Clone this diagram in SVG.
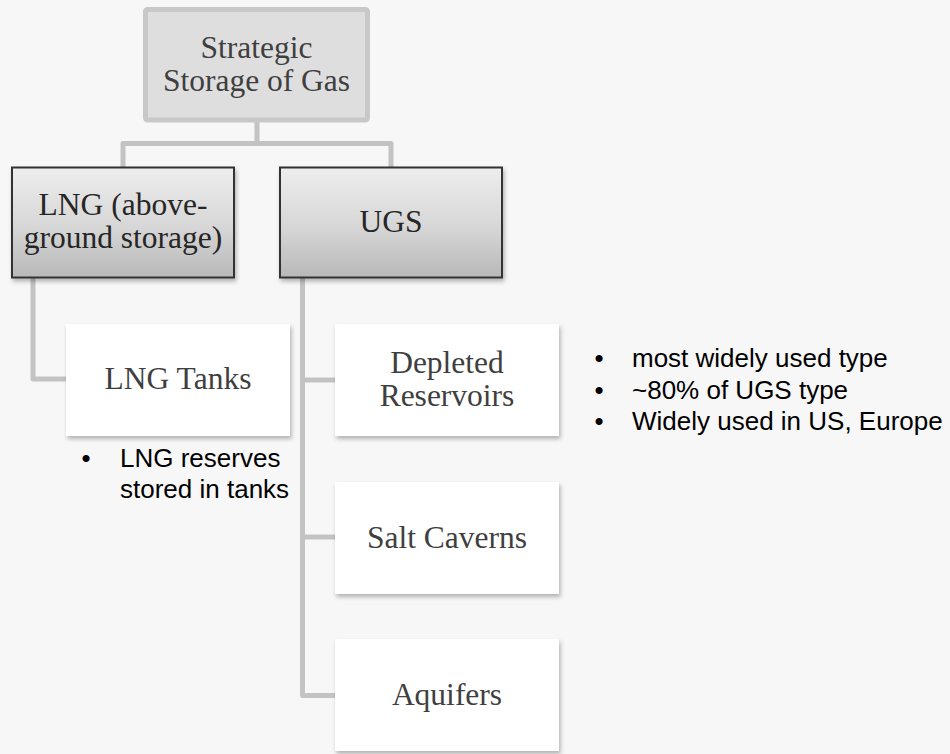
<svg xmlns="http://www.w3.org/2000/svg" width="950" height="754" viewBox="0 0 950 754">
  <defs>
    <linearGradient id="gradMid" x1="0" y1="0" x2="0" y2="1">
      <stop offset="0" stop-color="#eeeeee"/>
      <stop offset="0.55" stop-color="#d6d6d6"/>
      <stop offset="1" stop-color="#b8b8b8"/>
    </linearGradient>
    <filter id="shadow" x="-10%" y="-10%" width="125%" height="130%">
      <feDropShadow dx="1.5" dy="3" stdDeviation="2" flood-color="#000" flood-opacity="0.28"/>
    </filter>
  </defs>
  <style>
    .bg { fill: #f7f7f7; }
    .conn { fill: none; stroke: #c3c3c3; stroke-width: 5; stroke-linejoin: round; stroke-linecap: butt; }
    .root { fill: #dedede; stroke: #c8c8c8; stroke-width: 5; }
    .mid { fill: url(#gradMid); stroke: #333333; stroke-width: 2; filter: url(#shadow); }
    .leaf { fill: #ffffff; stroke: none; filter: url(#shadow); }
    .serif { font-family: "Liberation Serif", "Times New Roman", serif; font-size: 31.5px; fill: #3f3f3f; text-anchor: middle; }
    .serif.dark { fill: #262626; }
    .note { font-family: "Liberation Sans", Arial, sans-serif; font-size: 26px; fill: #000000; }
    .bullet { font-family: "Liberation Sans", Arial, sans-serif; font-size: 26px; fill: #000000; text-anchor: middle; }
  </style>

  <rect class="bg" x="0" y="0" width="950" height="754"/>

  <!-- connectors -->
  <g id="connectors">
    <path class="conn" d="M257,122 V143.5 M123,167 V143.5 H391 V167"/>
    <path class="conn" d="M33,278 V379 H66"/>
    <path class="conn" d="M302.5,278 V695.5 H335 M302.5,380 H335 M302.5,537 H335"/>
  </g>

  <!-- root -->
  <g id="node-root">
    <rect class="root" x="145.5" y="9.5" width="222" height="110.5" rx="2"/>
    <text class="serif" x="256.5" y="58">Strategic</text>
    <text class="serif" x="256.5" y="91">Storage of Gas</text>
  </g>

  <!-- second level -->
  <g id="node-lng">
    <rect class="mid" x="12" y="167.5" width="222" height="110"/>
    <text class="serif dark" x="123" y="215">LNG (above-</text>
    <text class="serif dark" x="123" y="248">ground storage)</text>
  </g>
  <g id="node-ugs">
    <rect class="mid" x="280" y="167.5" width="222" height="110"/>
    <text class="serif dark" x="391" y="232">UGS</text>
  </g>

  <!-- leaves -->
  <g id="node-lng-tanks">
    <rect class="leaf" x="66" y="324" width="224" height="112"/>
    <text class="serif" x="178" y="389">LNG Tanks</text>
  </g>
  <g id="node-depleted">
    <rect class="leaf" x="335" y="324" width="224" height="112"/>
    <text class="serif" x="447" y="373">Depleted</text>
    <text class="serif" x="447" y="405.5">Reservoirs</text>
  </g>
  <g id="node-salt">
    <rect class="leaf" x="335" y="482" width="224" height="112"/>
    <text class="serif" x="447" y="548">Salt Caverns</text>
  </g>
  <g id="node-aquifers">
    <rect class="leaf" x="335" y="639" width="224" height="112"/>
    <text class="serif" x="447" y="705">Aquifers</text>
  </g>

  <!-- notes -->
  <g id="note-lng">
    <text class="bullet" x="86" y="466.5">•</text>
    <text class="note" x="120" y="466.5">LNG reserves</text>
    <text class="note" x="120" y="498">stored in tanks</text>
  </g>
  <g id="note-depleted">
    <text class="bullet" x="599" y="367">•</text>
    <text class="note" x="632" y="367">most widely used type</text>
    <text class="bullet" x="599" y="398.5">•</text>
    <text class="note" x="632" y="398.5">~80% of UGS type</text>
    <text class="bullet" x="599" y="430">•</text>
    <text class="note" x="632" y="430">Widely used in US, Europe</text>
  </g>
</svg>
